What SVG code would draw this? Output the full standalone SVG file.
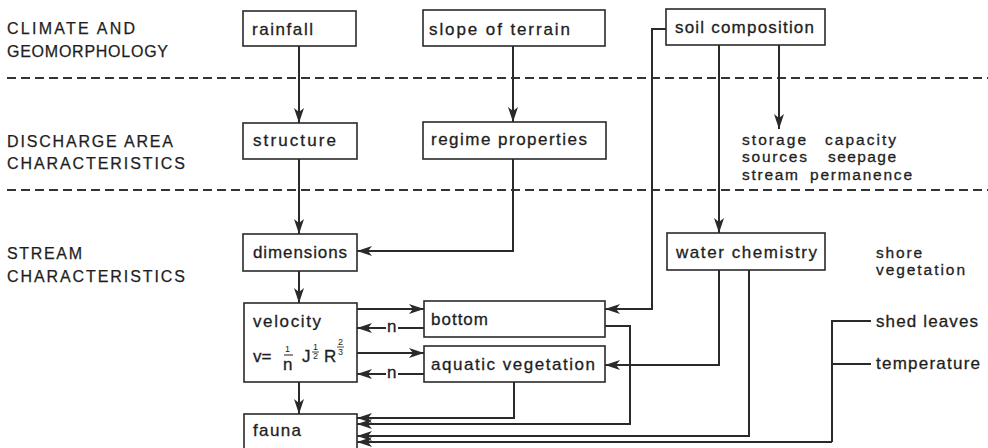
<svg xmlns="http://www.w3.org/2000/svg" width="988" height="448" viewBox="0 0 988 448">
  <style>
    .box { fill: #ffffff; stroke: #2a2a2a; stroke-width: 1.6; }
    .lbl { font-family: "Liberation Sans", Arial, sans-serif; font-size: 17px; fill: #1e1e1e; stroke: #1e1e1e; stroke-width: 0.3; }
    .stk { font-size: 15.5px; }
    .zone { font-family: "Liberation Sans", Arial, sans-serif; font-size: 16px; fill: #1e1e1e; stroke: #1e1e1e; stroke-width: 0.25; }
    .sm { font-family: "Liberation Sans", Arial, sans-serif; font-size: 9px; fill: #1e1e1e; }
    .wire { fill: none; stroke: #2a2a2a; stroke-width: 2; }
    .arr { fill: none; stroke: #2a2a2a; stroke-width: 2; marker-end: url(#ah); }
    .div { fill: none; stroke: #333333; stroke-width: 1.8; stroke-dasharray: 9 5; }
  </style>
  <defs>
    <marker id="ah" viewBox="0 0 15 10" markerWidth="15" markerHeight="10" refX="15" refY="5" orient="auto" markerUnits="userSpaceOnUse">
      <path d="M0,0 L15,5 L0,10 L4,5 Z" fill="#2a2a2a"/>
    </marker>
  </defs>

  <rect width="988" height="448" fill="#ffffff"/>

  <!-- zone dividers -->
  <g id="dividers">
    <line class="div" x1="7" y1="78" x2="988" y2="78"/>
    <line class="div" x1="7" y1="190" x2="988" y2="190"/>
  </g>

  <!-- zone headings -->
  <g id="zone-labels">
    <text class="zone" x="7" y="34" textLength="128">CLIMATE AND</text>
    <text class="zone" x="7" y="57" textLength="161">GEOMORPHOLOGY</text>
    <text class="zone" x="7" y="147" textLength="166">DISCHARGE AREA</text>
    <text class="zone" x="7" y="169" textLength="178">CHARACTERISTICS</text>
    <text class="zone" x="7" y="259" textLength="75">STREAM</text>
    <text class="zone" x="7" y="282" textLength="178">CHARACTERISTICS</text>
  </g>

  <!-- connectors -->
  <g id="connectors">
    <line class="arr" x1="299" y1="46" x2="299" y2="123"/>
    <line class="arr" x1="513" y1="46" x2="513" y2="122"/>
    <line class="arr" x1="299" y1="159" x2="299" y2="234"/>
    <polyline class="arr" points="513,159 513,251 357,251"/>
    <line class="arr" x1="299" y1="271" x2="299" y2="303"/>
    <line class="arr" x1="299" y1="382" x2="299" y2="414"/>

    <!-- velocity / bottom / aquatic vegetation loops -->
    <line class="arr" x1="357" y1="309" x2="424" y2="309"/>
    <line class="wire" x1="424" y1="328" x2="398" y2="328"/>
    <line class="arr" x1="386" y1="328" x2="357" y2="328"/>
    <line class="arr" x1="357" y1="353" x2="424" y2="353"/>
    <line class="wire" x1="424" y1="374" x2="398" y2="374"/>
    <line class="arr" x1="386" y1="374" x2="357" y2="374"/>

    <!-- soil composition outputs -->
    <polyline class="arr" points="666,29 652,29 652,309 605,309"/>
    <line class="arr" x1="719" y1="45" x2="719" y2="233"/>
    <line class="arr" x1="779" y1="45" x2="779" y2="129"/>

    <!-- water chemistry outputs -->
    <polyline class="arr" points="719,270 719,365 605,365"/>
    <polyline class="arr" points="749,270 749,436 357,436"/>

    <!-- inputs to fauna -->
    <polyline class="arr" points="514,382 514,418 357,418"/>
    <polyline class="arr" points="605,326 630,326 630,424 357,424"/>
    <polyline class="wire" points="871,321 832,321 832,442"/>
    <line class="wire" x1="832" y1="364" x2="871" y2="364"/>
    <line class="arr" x1="832" y1="442" x2="357" y2="442"/>
  </g>

  <!-- nodes -->
  <g id="rainfall">
    <rect class="box" x="243" y="11" width="113" height="35"/>
    <text class="lbl" x="252" y="35" textLength="61">rainfall</text>
  </g>
  <g id="slope-of-terrain">
    <rect class="box" x="423" y="10" width="182" height="36"/>
    <text class="lbl" x="429" y="35" textLength="141">slope of terrain</text>
  </g>
  <g id="soil-composition">
    <rect class="box" x="666" y="9" width="159" height="36"/>
    <text class="lbl" x="675" y="33" textLength="139">soil composition</text>
  </g>
  <g id="structure">
    <rect class="box" x="243" y="123" width="114" height="36"/>
    <text class="lbl" x="253" y="146" textLength="83">structure</text>
  </g>
  <g id="regime-properties">
    <rect class="box" x="423" y="122" width="183" height="37"/>
    <text class="lbl" x="431" y="145" textLength="156">regime properties</text>
  </g>
  <g id="soil-effects">
    <text class="lbl stk" x="742" y="145" textLength="64">storage</text>
    <text class="lbl stk" x="825" y="145" textLength="71">capacity</text>
    <text class="lbl stk" x="742" y="162" textLength="65">sources</text>
    <text class="lbl stk" x="828" y="162" textLength="68">seepage</text>
    <text class="lbl stk" x="742" y="180" textLength="56">stream</text>
    <text class="lbl stk" x="810" y="180" textLength="102">permanence</text>
  </g>
  <g id="dimensions">
    <rect class="box" x="243" y="234" width="114" height="37"/>
    <text class="lbl" x="253" y="258" textLength="94">dimensions</text>
  </g>
  <g id="water-chemistry">
    <rect class="box" x="667" y="233" width="158" height="37"/>
    <text class="lbl" x="676" y="258" textLength="141">water chemistry</text>
  </g>
  <g id="shore-vegetation">
    <text class="lbl stk" x="876" y="258" textLength="46">shore</text>
    <text class="lbl stk" x="876" y="275" textLength="89">vegetation</text>
  </g>
  <g id="shed-leaves">
    <text class="lbl" x="876" y="327" textLength="102">shed leaves</text>
  </g>
  <g id="temperature">
    <text class="lbl" x="876" y="369" textLength="104">temperature</text>
  </g>
  <g id="velocity">
    <rect class="box" x="244" y="303" width="113" height="79"/>
    <text class="lbl" x="253" y="327" textLength="68">velocity</text>
    <text class="lbl" x="253" y="362">v=</text>
    <text class="sm" x="285" y="352" font-size="11px">1</text>
    <line x1="284" y1="355" x2="293" y2="355" stroke="#1e1e1e" stroke-width="1"/>
    <text class="lbl" x="283" y="370">n</text>
    <text class="lbl" x="302" y="362">J</text>
    <text class="sm" x="313" y="350">1</text>
    <line x1="312" y1="352" x2="319" y2="352" stroke="#1e1e1e" stroke-width="0.8"/>
    <text class="sm" x="313" y="359">2</text>
    <text class="lbl" x="324" y="362">R</text>
    <text class="sm" x="338" y="345">2</text>
    <line x1="337" y1="347" x2="344" y2="347" stroke="#1e1e1e" stroke-width="0.8"/>
    <text class="sm" x="338" y="355">3</text>
  </g>
  <g id="bottom">
    <rect class="box" x="424" y="301" width="181" height="36"/>
    <text class="lbl" x="431" y="325" textLength="57">bottom</text>
  </g>
  <g id="aquatic-vegetation">
    <rect class="box" x="424" y="346" width="181" height="36"/>
    <text class="lbl" x="431" y="370" textLength="164">aquatic vegetation</text>
  </g>
  <g id="roughness-labels">
    <text class="lbl" x="387" y="332" font-size="15px">n</text>
    <text class="lbl" x="387" y="378" font-size="15px">n</text>
  </g>
  <g id="fauna">
    <rect class="box" x="244" y="414" width="113" height="50"/>
    <text class="lbl" x="253" y="436" textLength="48">fauna</text>
  </g>
</svg>
